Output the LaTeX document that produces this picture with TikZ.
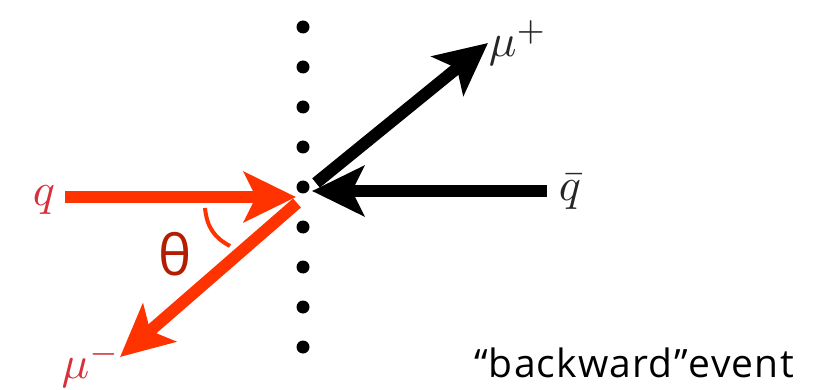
\documentclass[tikz,border=0pt]{standalone}
\usepackage{fontspec}
\newfontfamily\labelfont{Open Sans}
\newfontfamily\evfont[LetterSpace=3.0]{Open Sans}
\usetikzlibrary{arrows.meta}
\definecolor{qred}{HTML}{FF3300}
\definecolor{thred}{HTML}{B41E00}
\definecolor{lblred}{HTML}{D8303A}
\tikzset{
  particle/.style={line width=12pt, -{Stealth[length=52pt,width=50pt,inset=12pt]}},
  dotmark/.style={circle, fill=black, inner sep=0pt, minimum size=13pt},
  mathlbl/.style={inner sep=0pt},
}
\begin{document}
\begin{tikzpicture}[x=1pt,y=-1pt]
\useasboundingbox (0,0) rectangle (835,390);
% dotted line
\foreach \i [count=\k] in {27,67,107,147,187,227,267,307,347}
  \node[dotmark] (d\k) at (303,\i) {};
% coordinates
\coordinate (qs) at (65,197);
\coordinate (qe) at (296,197);
\coordinate (ms) at (297,203);
\coordinate (me) at (120,357);
\coordinate (ps) at (316,183);
\coordinate (pe) at (488,43);
\coordinate (bs) at (547,191);
\coordinate (be) at (312,191);
% arrows
\draw[particle, qred] (qs) -- (qe);
\draw[particle, qred] (ms) -- (me);
\draw[particle, black] (ps) -- (pe);
\draw[particle, black] (bs) -- (be);
% angle arc
\draw[qred, line width=4pt] (205,208) .. controls (207,228) and (215,238) .. (230,246);
% labels
\node[mathlbl, text=lblred] (ql) at (44,200) {\scalebox{4.6}{$q$}};
\node[mathlbl, text=lblred] (mml) at (91,365) {\scalebox{4.6}{$\mu^{-}$}};
\node[mathlbl, text=black!85] (mpl) at (518,43) {\scalebox{4.6}{$\mu^{+}$}};
\node[mathlbl, text=black!85] (qbl) at (570,192) {\scalebox{4.6}{$\bar{q}$}};
\node[inner sep=0pt, text=thred, font=\fontsize{56}{58}\selectfont\labelfont] (th) at (175,254) {θ};
\node[inner sep=0pt, anchor=west, font=\fontsize{39}{42}\selectfont\evfont] (ev) at (474,363) {“backward”event};
\end{tikzpicture}
\end{document}
